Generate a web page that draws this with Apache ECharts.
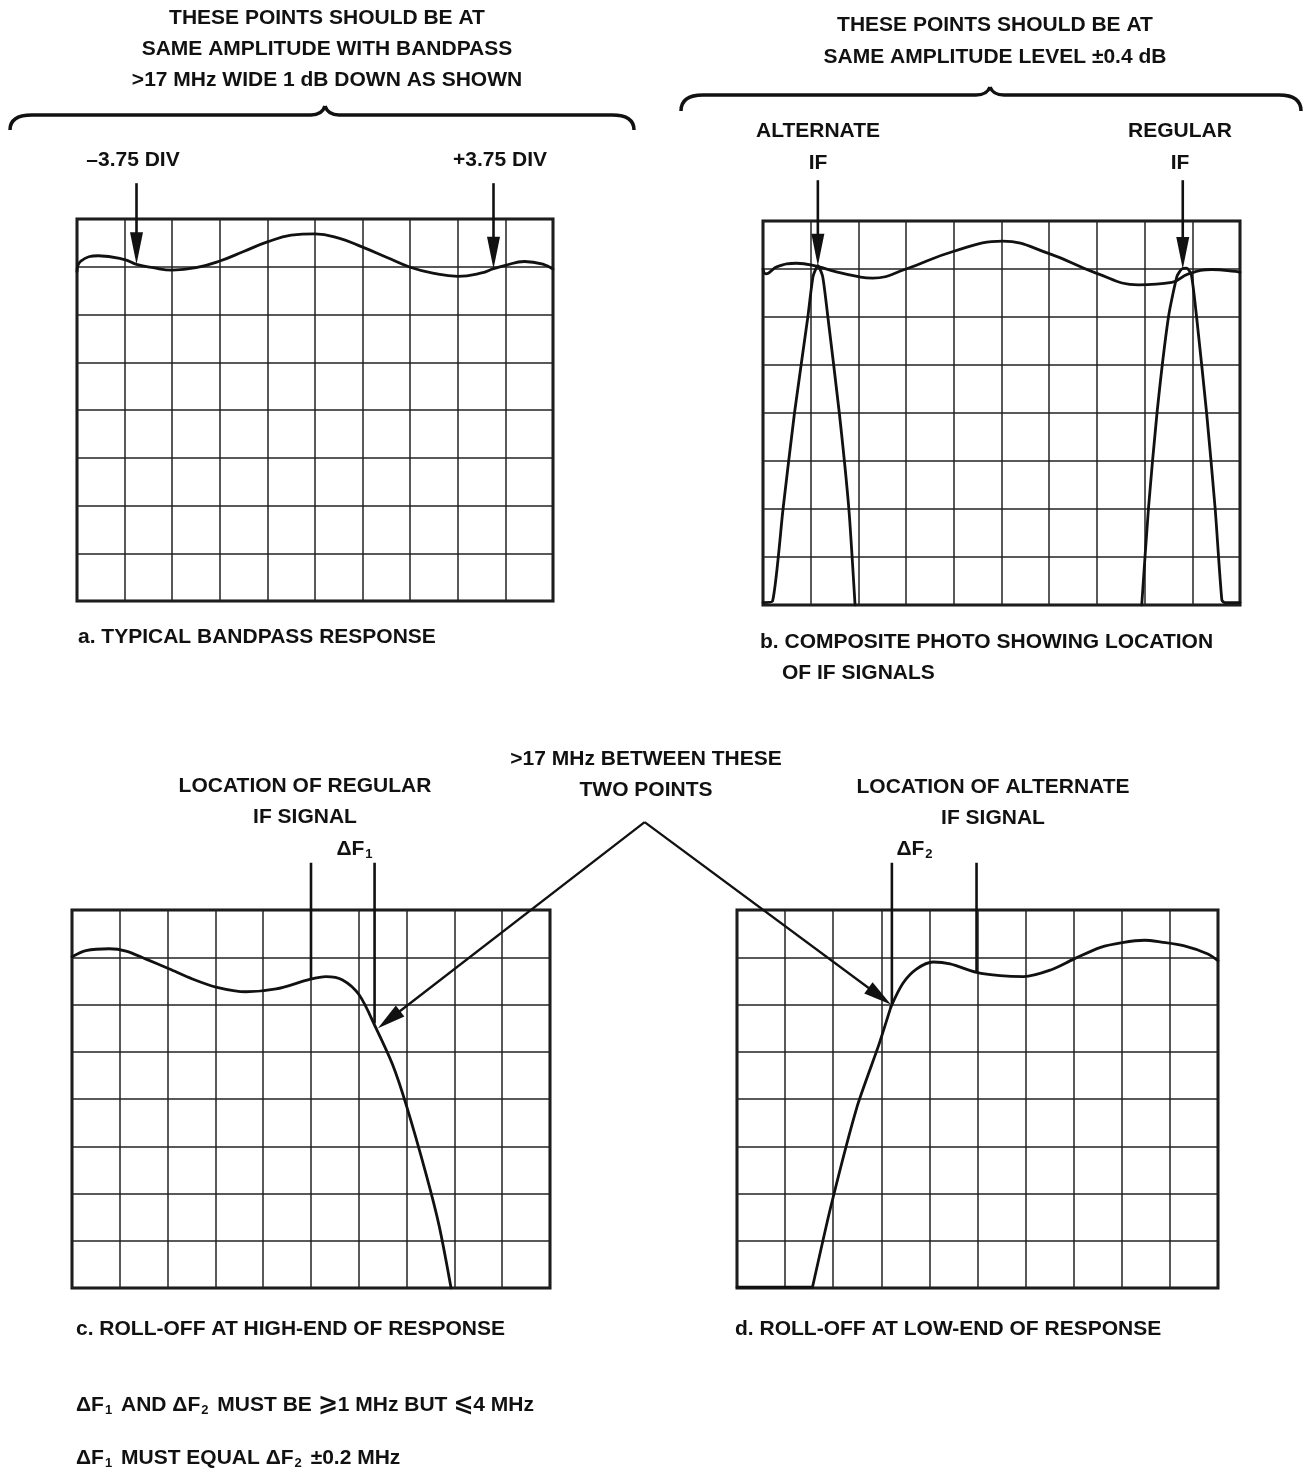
<!DOCTYPE html>
<html>
<head>
<meta charset="utf-8">
<script src="https://cdn.jsdelivr.net/npm/echarts@6/dist/echarts.min.js"></script>
<style>
  html, body { margin: 0; background: #fff; }
  #chart { width: 1306px; height: 1479px; }
</style>
</head>
<body>
<div id="chart"></div>
<script>
// trace readings, in screen divisions (x 0..10, y 0..8 from bottom)
const aX = [0, 0.08, 0.45, 1.0, 1.25, 1.6, 2.0, 2.5, 3.0, 3.5, 4.0, 4.5, 5.0, 5.5, 6.0, 6.5, 7.0, 7.5, 8.0, 8.5, 8.75, 9.0, 9.4, 9.8, 10];
const aY = [6.9, 7.12, 7.23, 7.15, 7.05, 6.98, 6.93, 6.98, 7.12, 7.32, 7.52, 7.66, 7.69, 7.6, 7.41, 7.2, 6.99, 6.86, 6.8, 6.87, 6.96, 7.03, 7.11, 7.05, 6.95];

const bX = [0, 0.06, 0.3, 0.7, 1.15, 1.5, 2.0, 2.3, 3.0, 3.97, 5.02, 6.0, 6.97, 7.87, 8.57, 8.92, 9.41, 9.9, 10];
const bY = [7.0, 6.9, 7.05, 7.12, 7.05, 6.95, 6.84, 6.81, 7.0, 7.36, 7.58, 7.32, 6.92, 6.67, 6.72, 6.9, 6.99, 6.95, 6.93];
const altX = [0, 0.2, 0.42, 0.66, 0.94, 1.05, 1.15, 1.25, 1.36, 1.6, 1.8, 1.93];
const altY = [0.05, 0.08, 2, 4, 6, 6.85, 7.07, 6.85, 6, 4, 2, 0];
const regX = [7.94, 8.08, 8.26, 8.5, 8.68, 8.78, 8.88, 8.98, 9.09, 9.3, 9.48, 9.62, 9.68, 10];
const regY = [0, 2, 4, 6, 6.85, 7.0, 7.02, 6.88, 6, 4, 2, 0.1, 0.05, 0.05];

const cX = [0, 0.29, 0.78, 1.13, 1.55, 2.04, 2.52, 3.01, 3.64, 4.27, 4.97, 5.31, 5.66, 6.01, 6.36, 6.71, 6.99, 7.41, 7.68, 7.93];
const cY = [7.01, 7.14, 7.18, 7.13, 6.96, 6.75, 6.54, 6.37, 6.27, 6.33, 6.53, 6.59, 6.52, 6.2, 5.5, 4.72, 3.88, 2.4, 1.32, 0];

// panel d: flat floor, the rising edge, then the passband
const dFloorX = [0, 1.57];
const dFloorY = [0.02, 0.02];
const dRiseX = [1.57, 1.95, 2.5, 2.95, 3.2];
const dRiseY = [0.02, 1.72, 3.85, 5.15, 5.95];
const dTopX = [3.2, 3.45, 3.73, 4.08, 4.43, 4.98, 5.47, 5.96, 6.52, 7.0, 7.56, 8.01, 8.47, 8.82, 9.3, 9.79, 10];
const dTopY = [5.95, 6.45, 6.75, 6.9, 6.86, 6.68, 6.61, 6.59, 6.73, 6.96, 7.21, 7.31, 7.36, 7.32, 7.24, 7.07, 6.93];

const divX = [0, 10];
const divY = [0, 8];

const FONT = '"Liberation Sans", Arial, sans-serif';
const INK = '#111';

const chart = echarts.init(document.getElementById('chart'), null, { renderer: 'canvas' });

const grids = [
  { left: 77, top: 219, width: 476, height: 382 },
  { left: 763, top: 221, width: 477, height: 384 },
  { left: 72, top: 910, width: 478, height: 378 },
  { left: 737, top: 910, width: 481, height: 378 }
].map((g) => ({ ...g, show: true, borderColor: INK, borderWidth: 3, backgroundColor: '#fff' }));

function axes(kind) {
  return grids.map((_, i) => ({
    gridIndex: i,
    type: 'value',
    min: kind === 'x' ? divX[0] : divY[0],
    max: kind === 'x' ? divX[1] : divY[1],
    interval: 1,
    axisLabel: { show: false },
    axisTick: { show: false },
    axisLine: { show: false },
    splitLine: { show: true, lineStyle: { color: '#222', width: 1.5 } }
  }));
}

function trace(idx, xs, ys, smooth) {
  return {
    type: 'line',
    xAxisIndex: idx,
    yAxisIndex: idx,
    data: xs.map((x, i) => [x, ys[i]]),
    smooth: smooth,
    symbol: 'none',
    silent: true,
    lineStyle: { color: INK, width: 2.8, cap: 'round', join: 'round' }
  };
}

chart.setOption({
  animation: false,
  backgroundColor: '#fff',
  grid: grids,
  xAxis: axes('x'),
  yAxis: axes('y'),
  series: [
    trace(0, aX, aY, 0.45),
    trace(1, bX, bY, 0.45),
    trace(1, altX, altY, 0.2),
    trace(1, regX, regY, 0.2),
    trace(2, cX, cY, 0.3),
    trace(3, dFloorX, dFloorY, false),
    trace(3, dRiseX, dRiseY, 0.2),
    trace(3, dTopX, dTopY, 0.3)
  ]
});

// annotations placed through the grid scales
function px(g, x, y) {
  return chart.convertToPixel({ gridIndex: g }, [x, y]);
}

function seg(p0, p1, width) {
  return { type: 'line', shape: { x1: p0[0], y1: p0[1], x2: p1[0], y2: p1[1] }, style: { stroke: INK, lineWidth: width } };
}

function arrow(p0, p1, len, hw, width) {
  const dx = p1[0] - p0[0], dy = p1[1] - p0[1];
  const d = Math.hypot(dx, dy);
  const ux = dx / d, uy = dy / d;
  const bx = p1[0] - ux * len, by = p1[1] - uy * len;
  return [
    seg(p0, [bx + ux * 2, by + uy * 2], width),
    {
      type: 'polygon',
      shape: { points: [p1, [bx - uy * hw, by + ux * hw], [bx + uy * hw, by - ux * hw]] },
      style: { fill: INK }
    }
  ];
}

function curve(x1, y1, cx, cy, x2, y2) {
  return {
    type: 'bezierCurve',
    shape: { x1: x1, y1: y1, cpx1: cx, cpy1: cy, x2: x2, y2: y2 },
    style: { stroke: INK, lineWidth: 3.5, fill: null }
  };
}

function brace(x0, x1, xt, yLine, yEnd, yTip) {
  const r = 22;
  const st = { stroke: INK, lineWidth: 3.5 };
  return [
    curve(x0, yEnd, x0, yLine, x0 + r, yLine),
    { type: 'line', shape: { x1: x0 + r, y1: yLine, x2: xt - 14, y2: yLine }, style: st },
    curve(xt - 14, yLine, xt - 3, yLine, xt, yTip),
    curve(xt, yTip, xt + 3, yLine, xt + 14, yLine),
    { type: 'line', shape: { x1: xt + 14, y1: yLine, x2: x1 - r, y2: yLine }, style: st },
    curve(x1 - r, yLine, x1, yLine, x1, yEnd)
  ];
}

function txt(text, x, y, align, size) {
  const fs = size || 21;
  return {
    type: 'text',
    x: x,
    y: y,
    style: {
      text: text,
      fill: INK,
      font: 'bold ' + fs + 'px ' + FONT,
      align: align || 'center',
      verticalAlign: 'middle',
      rich: {
        n: { fontSize: fs, fontWeight: 'bold', fontFamily: FONT, fill: INK },
        s: { fontSize: 13, fontWeight: 'bold', fontFamily: FONT, fill: INK, padding: [11, 3, 0, 1] },
        m: { fontSize: fs + 3, fontWeight: 'bold', fontFamily: '"DejaVu Sans", sans-serif', fill: INK }
      }
    }
  };
}

const els = [];

// panel a arrows
els.push(...arrow(px(0, 1.25, 8.75), px(0, 1.25, 7.05), 32, 6.5, 2.6));
els.push(...arrow(px(0, 8.75, 8.75), px(0, 8.75, 6.96), 32, 6.5, 2.6));
// panel b arrows
els.push(...arrow(px(1, 1.15, 8.85), px(1, 1.15, 7.07), 32, 6.5, 2.6));
els.push(...arrow(px(1, 8.8, 8.85), px(1, 8.8, 7.0), 32, 6.5, 2.6));

// delta F markers
els.push(seg(px(2, 5.0, 9.0), px(2, 5.0, 6.53), 2.6));
els.push(seg(px(2, 6.33, 9.0), px(2, 6.33, 5.6), 2.6));
els.push(seg(px(3, 3.22, 9.0), px(3, 3.22, 6.0), 2.6));
els.push(seg(px(3, 4.98, 9.0), px(3, 4.98, 6.68), 2.6));

// the two long arrows meeting above the lower panels
const apex = px(2, 11.98, 9.86);
els.push(...arrow(apex, px(2, 6.4, 5.5), 28, 7, 2.3));
els.push(...arrow(apex, px(3, 3.2, 6.0), 28, 7, 2.3));

// braces
els.push(...brace(10, 634, 325, 115, 130, 106));
els.push(...brace(681, 1301, 990, 95, 111, 87));

// texts
els.push(txt('THESE POINTS SHOULD BE AT', 327, 18));
els.push(txt('SAME AMPLITUDE WITH BANDPASS', 327, 49));
els.push(txt('>17 MHz WIDE 1 dB DOWN AS SHOWN', 327, 80));
els.push(txt('THESE POINTS SHOULD BE AT', 995, 25));
els.push(txt('SAME AMPLITUDE LEVEL ±0.4 dB', 995, 57));
els.push(txt('–3.75 DIV', 133, 160));
els.push(txt('+3.75 DIV', 500, 160));
els.push(txt('ALTERNATE', 818, 131));
els.push(txt('IF', 818, 163));
els.push(txt('REGULAR', 1180, 131));
els.push(txt('IF', 1180, 163));
els.push(txt('a. TYPICAL BANDPASS RESPONSE', 78, 637, 'left'));
els.push(txt('b. COMPOSITE PHOTO SHOWING LOCATION', 760, 642, 'left'));
els.push(txt('OF IF SIGNALS', 782, 673, 'left'));
els.push(txt('>17 MHz BETWEEN THESE', 646, 759));
els.push(txt('TWO POINTS', 646, 790));
els.push(txt('LOCATION OF REGULAR', 305, 786));
els.push(txt('IF SIGNAL', 305, 817));
els.push(txt('LOCATION OF ALTERNATE', 993, 787));
els.push(txt('IF SIGNAL', 993, 818));
els.push(txt('{n|ΔF}{s|1}', 356, 849));
els.push(txt('{n|ΔF}{s|2}', 916, 849));
els.push(txt('c. ROLL-OFF AT HIGH-END OF RESPONSE', 76, 1329, 'left'));
els.push(txt('d. ROLL-OFF AT LOW-END OF RESPONSE', 735, 1329, 'left'));
els.push(txt('{n|ΔF}{s|1}{n| AND ΔF}{s|2}{n| MUST BE }{m|⩾}{n|1 MHz BUT }{m|⩽}{n|4 MHz}', 76, 1405, 'left'));
els.push(txt('{n|ΔF}{s|1}{n| MUST EQUAL ΔF}{s|2}{n| ±0.2 MHz}', 76, 1458, 'left'));

chart.setOption({ graphic: { elements: els } });
</script>
</body>
</html>
